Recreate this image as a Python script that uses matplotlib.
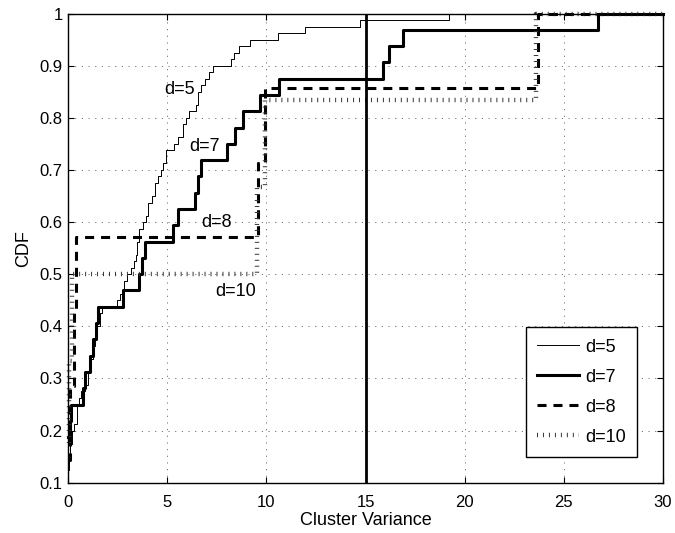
import matplotlib
matplotlib.use("Agg")
import matplotlib.pyplot as plt

plt.rcParams['font.family'] = ['Liberation Sans', 'DejaVu Sans']
plt.rcParams['lines.scale_dashes'] = False

# Empirical CDF step points (x where the step occurs, CDF level after it)
d5_x = [0.00, 0.05, 0.10, 0.20, 0.30, 0.42, 0.55, 0.67, 0.85, 1.00, 1.15, 1.25,
        1.33, 1.45, 1.60, 1.70, 2.45, 2.60, 2.80, 2.95, 3.15, 3.30, 3.40, 3.45,
        3.55, 3.75, 3.90, 4.05, 4.25, 4.40, 4.55, 4.67, 4.80, 4.92, 5.35, 5.55,
        5.80, 5.95, 6.10, 6.45, 6.55, 6.70, 6.90, 7.10, 7.30, 8.20, 8.35, 8.60,
        9.15, 10.6, 11.95, 14.7, 19.2, 30.0]
d5_y = [0.125, 0.15, 0.175, 0.20, 0.2125, 0.25, 0.2625, 0.275, 0.2875, 0.3125,
        0.3375, 0.3625, 0.375, 0.40, 0.425, 0.4375, 0.45, 0.4625, 0.4875, 0.50,
        0.5125, 0.525, 0.5375, 0.5625, 0.5875, 0.60, 0.6125, 0.6375, 0.65, 0.675,
        0.6875, 0.70, 0.7125, 0.7375, 0.75, 0.7625, 0.7875, 0.80, 0.8125, 0.825,
        0.85, 0.8625, 0.875, 0.8875, 0.90, 0.9125, 0.925, 0.9375, 0.95, 0.9625,
        0.975, 0.9875, 1.0, 1.0]

d7_x = [0.00, 0.08, 0.15, 0.75, 0.85, 1.10, 1.25, 1.40, 1.50, 2.75, 3.55, 3.70,
        3.85, 5.30, 5.55, 6.40, 6.55, 6.70, 8.00, 8.40, 8.80, 9.65, 10.65,
        15.9, 16.2, 16.9, 26.7, 30.0]
d7_y = [0.1875, 0.21875, 0.25, 0.28125, 0.3125, 0.34375, 0.375, 0.40625,
        0.4375, 0.46875, 0.5, 0.53125, 0.5625, 0.59375, 0.625, 0.65625, 0.6875,
        0.71875, 0.75, 0.78125, 0.8125, 0.84375, 0.875, 0.90625, 0.9375,
        0.96875, 1.0, 1.0]

d8_x = [0.00, 0.08, 0.30, 0.40, 9.55, 9.95, 23.7, 30.0]
d8_y = [1/7, 2/7, 3/7, 4/7, 5/7, 6/7, 1.0, 1.0]

d10_x = [0.00, 0.05, 0.20, 9.50, 9.92, 23.6, 30.0]
d10_y = [1/6, 2/6, 3/6, 4/6, 5/6, 1.0, 1.0]

threshold = 15

x_ticks = [0, 5, 10, 15, 20, 25, 30]
y_ticks = [0.1, 0.2, 0.3, 0.4, 0.5, 0.6, 0.7, 0.8, 0.9, 1.0]
y_tick_labels = ['0.1', '0.2', '0.3', '0.4', '0.5', '0.6', '0.7', '0.8', '0.9', '1']

fig = plt.figure(figsize=(6.75, 5.33), dpi=100)
ax = fig.add_axes([0.101, 0.0944, 0.8813, 0.8801])

TICK_FS = 12
FS = 13

ax.step(d5_x, d5_y, where='post', color='black', lw=0.7, label='d=5', clip_on=False)
ax.step(d7_x, d7_y, where='post', color='black', lw=2.2, label='d=7', clip_on=False)
ax.step(d8_x, d8_y, where='post', color='black', lw=2.2, ls=(0, (6.5, 5.0)),
        dash_capstyle='butt', label='d=8', clip_on=False)
ax.step(d10_x, d10_y, where='post', color='#333333', lw=3.2, ls=(0, (0.7, 3.6)),
        dash_capstyle='butt', label='d=10', clip_on=False)
ax.axvline(threshold, color='black', lw=2.0)

ax.set_xlim(0, 30)
ax.set_ylim(0.1, 1.0)
ax.set_xticks(x_ticks)
ax.set_yticks(y_ticks)
ax.set_yticklabels(y_tick_labels)
ax.tick_params(direction='in', length=4, width=0.8, top=True, right=True,
               labelsize=TICK_FS)
ax.tick_params(axis='x', pad=9)
ax.tick_params(axis='y', pad=4)
ax.grid(True, color='#555555', lw=0.6, ls=(0, (0.8, 4.0)))
for s in ax.spines.values():
    s.set_linewidth(1.0)

ax.set_xlabel('Cluster Variance', fontsize=FS, labelpad=1)
ax.set_ylabel('CDF', fontsize=FS, labelpad=5)

ax.text(5.6, 0.855, 'd=5', fontsize=FS, ha='center', va='center')
ax.text(6.87, 0.745, 'd=7', fontsize=FS, ha='center', va='center')
ax.text(7.5, 0.60, 'd=8', fontsize=FS, ha='center', va='center')
ax.text(8.42, 0.466, 'd=10', fontsize=FS, ha='center', va='center')

leg = ax.legend(loc='lower right', bbox_to_anchor=(0.956, 0.055), fontsize=FS,
                frameon=True, fancybox=False, edgecolor='black', framealpha=1,
                handlelength=2.3, handletextpad=0.35, labelspacing=0.72,
                borderpad=0.62, borderaxespad=0)
leg.get_frame().set_linewidth(1.0)

fig.savefig('out.png', dpi=100)
